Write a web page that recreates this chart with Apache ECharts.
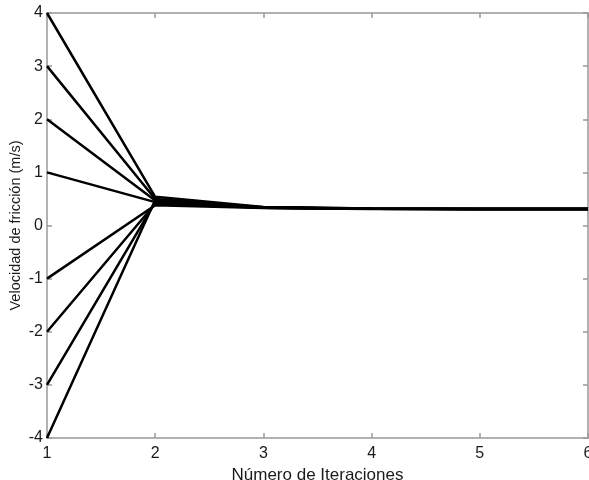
<!DOCTYPE html>
<html><head><meta charset="utf-8">
<script src="https://cdn.jsdelivr.net/npm/echarts@6/dist/echarts.min.js"></script>
<style>html,body{margin:0;padding:0;background:#fff}#c{width:589px;height:480px}</style>
</head><body><div id="c"></div>
<script>
const iterations = [1, 2, 3, 4, 5, 6];
const run1 = [4, 0.54, 0.35, 0.32, 0.31, 0.31];
const run2 = [3, 0.50, 0.345, 0.318, 0.31, 0.31];
const run3 = [2, 0.47, 0.34, 0.316, 0.31, 0.31];
const run4 = [1, 0.44, 0.335, 0.314, 0.31, 0.31];
const run5 = [-1, 0.38, 0.33, 0.312, 0.31, 0.31];
const run6 = [-2, 0.41, 0.332, 0.313, 0.31, 0.31];
const run7 = [-3, 0.44, 0.336, 0.315, 0.31, 0.31];
const run8 = [-4, 0.48, 0.34, 0.317, 0.31, 0.31];
const runs = [run1, run2, run3, run4, run5, run6, run7, run8];
const yTicks = [-4, -3, -2, -1, 0, 1, 2, 3, 4];

const chart = echarts.init(document.getElementById('c'), null, {renderer: 'canvas'});
const font = 'Liberation Sans, Arial, sans-serif';
const axisLineStyle = {color: '#999', width: 1.5};
chart.setOption({
  backgroundColor: '#fff',
  animation: false,
  grid: {left: 47, right: 1, top: 13, bottom: 42, containLabel: false, outerBoundsMode: 'none'},
  xAxis: [{
    type: 'value', min: 1, max: 6, interval: 1,
    name: 'Número de Iteraciones', nameLocation: 'middle', nameGap: 25,
    nameTextStyle: {color: '#1a1a1a', fontSize: 17, fontFamily: font},
    axisLine: {show: true, onZero: false, lineStyle: axisLineStyle},
    axisTick: {show: true, inside: true, length: 5, lineStyle: axisLineStyle},
    axisLabel: {color: '#1a1a1a', fontSize: 16, fontFamily: font, margin: 8},
    splitLine: {show: false}
  }, {
    type: 'value', min: 1, max: 6, interval: 1, position: 'top',
    axisLine: {show: true, onZero: false, lineStyle: axisLineStyle},
    axisTick: {show: true, inside: true, length: 5, lineStyle: axisLineStyle},
    axisLabel: {show: false}, splitLine: {show: false}
  }],
  yAxis: [{
    type: 'value', min: -4, max: 4, interval: 1,
    name: 'Velocidad de fricción (m/s)', nameLocation: 'middle', nameGap: 24,
    nameMoveOverlap: false,
    nameTextStyle: {color: '#1a1a1a', fontSize: 14.5, fontFamily: font},
    axisLine: {show: true, onZero: false, lineStyle: axisLineStyle},
    axisTick: {show: true, inside: true, length: 5, lineStyle: axisLineStyle},
    axisLabel: {color: '#1a1a1a', fontSize: 16, fontFamily: font, margin: 4,
      formatter: v => yTicks.includes(v) ? String(v) : ''},
    splitLine: {show: false}
  }, {
    type: 'value', min: -4, max: 4, interval: 1, position: 'right',
    axisLine: {show: true, onZero: false, lineStyle: axisLineStyle},
    axisTick: {show: true, inside: true, length: 5, lineStyle: axisLineStyle},
    axisLabel: {show: false}, splitLine: {show: false}
  }],
  series: runs.map((r, i) => ({
    type: 'line', name: 'run' + (i + 1),
    data: iterations.map((x, j) => [x, r[j]]),
    showSymbol: false, symbol: 'none',
    lineStyle: {color: '#000', width: 2.5},
    clip: true
  }))
});
</script></body></html>
